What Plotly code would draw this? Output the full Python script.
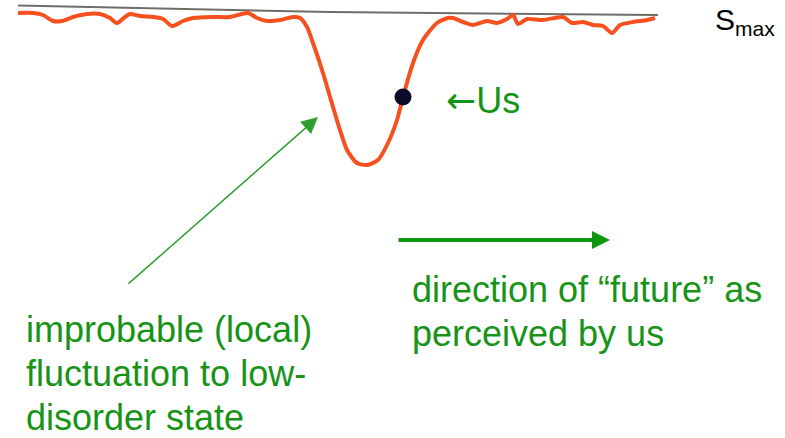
import plotly.graph_objects as go

# Entropy curve (x position, entropy in px-units above bottom)
curve_x = [18, 33, 43, 53, 62, 73, 87, 100, 110, 117, 125, 130, 140, 153, 163, 172,
           183, 193, 213, 230, 248, 257, 267, 280, 293, 300, 307, 313, 323, 333, 340,
           347, 357, 367, 378, 388, 397, 403, 413, 423, 437, 448, 453, 463, 473, 487,
           497, 507, 513, 518, 527, 543, 563, 572, 583, 593, 603, 612, 620, 633, 647, 655]
curve_depth = [13, 13, 15, 21, 21, 17, 14, 14, 18, 23, 17, 14, 16, 17, 19, 26,
               21, 18, 17, 17, 13, 18, 21, 20, 17, 18, 27, 43, 73, 107, 130,
               150, 163, 165, 160, 143, 120, 97, 63, 40, 23, 18, 18, 22, 25, 21,
               23, 19, 15, 24, 19, 20, 17, 23, 22, 25, 26, 33, 25, 22, 20, 18]
H = 438
curve_s = [H - d for d in curve_depth]

smax_x = [18, 330, 658]
smax_depth = [5.5, 12, 15]
smax_s = [H - d for d in smax_depth]

us_index = curve_x.index(403)

right_lines = ["direction of “future” as", "perceived by us"]
left_lines = ["improbable (local)", "fluctuation to low-", "disorder state"]

GREEN = "#179417"
ORANGE = "#F5501E"
FONT = "Liberation Sans, Arial, sans-serif"

fig = go.Figure()
fig.add_trace(go.Scatter(x=smax_x, y=smax_s, mode="lines",
                         line=dict(color="#6e6e66", width=2), hoverinfo="skip"))
fig.add_trace(go.Scatter(x=curve_x, y=curve_s, mode="lines",
                         line=dict(color=ORANGE, width=4, shape="spline", smoothing=0.7),
                         hoverinfo="skip"))
fig.add_trace(go.Scatter(x=[curve_x[us_index]], y=[curve_s[us_index]], mode="markers",
                         marker=dict(color="#0b0b28", size=17), hoverinfo="skip"))

annotations = [
    dict(x=713, y=H - 21, text="S<sub>max</sub>", showarrow=False, xanchor="left",
         yanchor="middle", font=dict(family=FONT, size=30, color="black")),
    dict(x=444, y=H - 100,
         text="<span style='font-family:DejaVu Sans;font-size:36px'>←</span>Us",
         showarrow=False, xanchor="left",
         yanchor="middle", font=dict(family=FONT, size=36, color=GREEN)),
    dict(x=318, y=H - 117, ax=127, ay=H - 285, xref="x", yref="y", axref="x", ayref="y",
         text="", showarrow=True, arrowhead=2, arrowsize=2.2, arrowwidth=1.5,
         arrowcolor="#2e9e2e", standoff=0),
    dict(x=610, y=H - 240, ax=397, ay=H - 240, xref="x", yref="y", axref="x", ayref="y",
         text="", showarrow=True, arrowhead=2, arrowsize=0.9, arrowwidth=4,
         arrowcolor="#119611", standoff=0),
]
for i, t in enumerate(right_lines):
    annotations.append(dict(x=410, y=H - (267 + 44 * i), text=t, showarrow=False,
                            xanchor="left", yanchor="top",
                            font=dict(family=FONT, size=36, color=GREEN)))
for i, t in enumerate(left_lines):
    annotations.append(dict(x=24, y=H - (307 + 44 * i), text=t, showarrow=False,
                            xanchor="left", yanchor="top",
                            font=dict(family=FONT, size=36, color=GREEN)))

fig.update_layout(
    width=785, height=438, margin=dict(l=0, r=0, t=0, b=0),
    paper_bgcolor="white", plot_bgcolor="white", showlegend=False,
    xaxis=dict(range=[0, 785], visible=False, fixedrange=True),
    yaxis=dict(range=[0, H], visible=False, fixedrange=True),
    annotations=annotations,
)
fig.write_html("out.html", config={"displayModeBar": False},
               post_script="document.body.style.margin='0';document.body.style.overflow='hidden';")
